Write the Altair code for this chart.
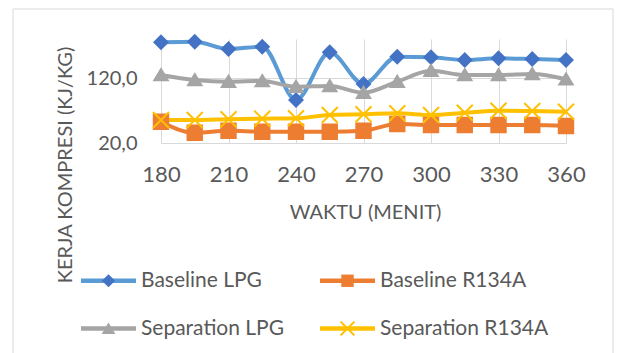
import altair as alt
import pandas as pd

# Time axis (minutes) and the four measured series of compression work (kJ/kg)
minutes = [180, 195, 210, 225, 240, 255, 270, 285, 300, 315, 330, 345, 360]
series_names = ["Baseline LPG", "Baseline R134A", "Separation LPG", "Separation R134A"]
baseline_lpg = [174.9, 175.8, 164.6, 168.2, 86.2, 159.5, 110.8, 152.8, 151.8, 147.7, 150.3, 149.2, 147.7]
baseline_r134a = [52.8, 35.8, 38.9, 37.4, 37.4, 37.4, 38.9, 49.2, 47.7, 47.7, 47.7, 47.7, 46.2]
separation_lpg = [124.6, 116.9, 114.3, 115.4, 106.6, 107.7, 97.4, 114.3, 131.2, 124.6, 124.6, 126.2, 118.0]
separation_r134a = [55.4, 55.4, 56.5, 57.4, 58.0, 63.1, 64.2, 65.7, 63.1, 66.6, 69.7, 69.2, 68.2]

x_ticks = [180, 210, 240, 270, 300, 330, 360]
y_ticks = [20, 120]

line_colors = ["#5b9bd5", "#ed7d31", "#a5a5a5", "#ffc000"]
marker_colors = ["#4472c4", "#ed7d31", "#a5a5a5", "#ffc000"]
marker_fills = ["#4472c4", "#ed7d31", "#a5a5a5", "transparent"]

# Marker shapes on the plot (unit box -1..1)
plot_markers = [
    "M0,-0.82L0.82,0L0,0.82L-0.82,0Z",
    "M-0.9,-0.9H0.9V0.9H-0.9Z",
    "M0,-0.74L0.84,0.66L-0.84,0.66Z",
    "M-1,-1L1,1M-1,1L1,-1",
]

# Legend symbols: a long bar for the line, plus a small marker on top of it
legend_bar = "M-1,-0.08H1V0.08H-1Z"
a, d = 0.25, 0.027
legend_markers = [
    "M0,-0.24L0.24,0L0,0.24L-0.24,0Z",
    "M-0.225,-0.225H0.225V0.225H-0.225Z",
    "M0,-0.22L0.25,0.2L-0.25,0.2Z",
    (f"M{-a-d},{-a+d}L{-a+d},{-a-d}L{a+d},{a-d}L{a-d},{a+d}Z"
     f"M{-a+d},{a+d}L{-a-d},{a-d}L{a-d},{-a-d}L{a+d},{-a+d}Z"),
]

rows = []
for name, vals in zip(series_names, [baseline_lpg, baseline_r134a, separation_lpg, separation_r134a]):
    for m, v in zip(minutes, vals):
        rows.append({"minute": m, "value": v, "series": name})
df = pd.DataFrame(rows)

FONT = "Lato"
TEXT = "#595959"
GRID = "#d9d9d9"

x_enc = alt.X(
    "minute:Q",
    scale=alt.Scale(domain=[180, 360], nice=False, zero=False),
    axis=alt.Axis(
        values=x_ticks, title="WAKTU (MENIT)", grid=True, gridColor=GRID,
        domainColor=GRID, ticks=False, tickSize=0, labelFlush=False, labelOverlap=False,
        labelFont=FONT, labelFontSize=22, labelColor=TEXT, labelPadding=31,
        labelBaseline="middle", titleFont=FONT, titleFontSize=20,
        titleFontWeight="normal", titleColor=TEXT, titleX=204, titleY=69,
        titleBaseline="middle",
    ),
)
y_enc = alt.Y(
    "value:Q",
    scale=alt.Scale(domain=[20, 180], nice=False, zero=False),
    axis=alt.Axis(
        values=y_ticks, labelExpr="replace(format(datum.value, '.1f'), '.', ',')",
        title="KERJA KOMPRESI (KJ/KG)", grid=True, gridColor=GRID, domain=False,
        ticks=False, tickSize=0, labelFont=FONT, labelFontSize=20, labelColor=TEXT,
        labelPadding=24, titleFont=FONT, titleFontSize=20, titleFontWeight="normal",
        titleColor=TEXT, titleX=-96, titleY=125.5, titleBaseline="middle",
    ),
)

base = alt.Chart(df)

lines = base.mark_line(interpolate="monotone", strokeWidth=4).encode(
    x=x_enc,
    y=y_enc,
    color=alt.Color("series:N", scale=alt.Scale(domain=series_names, range=line_colors), legend=None),
)

points = base.mark_point(size=256, strokeWidth=2, opacity=1).encode(
    x="minute:Q",
    y="value:Q",
    fill=alt.Fill("series:N", scale=alt.Scale(domain=series_names, range=marker_fills), legend=None),
    stroke=alt.Stroke("series:N", scale=alt.Scale(domain=series_names, range=marker_colors), legend=None),
    shape=alt.Shape("series:N", scale=alt.Scale(domain=series_names, range=plot_markers), legend=None),
)


def legend_props(show_labels):
    props = dict(
        title=None, orient="none", legendX=-80, legendY=214, columns=2,
        direction="horizontal",
        symbolSize=3025, symbolStrokeWidth=0, labelFont=FONT, labelFontSize=21,
        labelColor=TEXT, labelOffset=5, labelLimit=400, rowPadding=10,
        columnPadding=35, padding=0,
    )
    if not show_labels:
        props["labelOpacity"] = 0
    return alt.Legend(**props)


# Legend layers: no marks of their own, only the key built from the scales
legend_lines = base.transform_filter("false").mark_point(filled=True, opacity=1).encode(
    x="minute:Q",
    y="value:Q",
    fill=alt.Fill("series:N", scale=alt.Scale(domain=series_names, range=line_colors), legend=legend_props(True)),
    shape=alt.Shape("series:N", scale=alt.Scale(domain=series_names, range=[legend_bar] * 4), legend=legend_props(True)),
)
legend_marks = base.transform_filter("false").mark_point(filled=True, opacity=1).encode(
    x="minute:Q",
    y="value:Q",
    fill=alt.Fill("series:N", scale=alt.Scale(domain=series_names, range=marker_colors), legend=legend_props(False)),
    shape=alt.Shape("series:N", scale=alt.Scale(domain=series_names, range=legend_markers), legend=legend_props(False)),
)

# Outer chart-area border
frame = alt.Chart(pd.DataFrame({"k": [0]})).mark_rect(
    fill="transparent", stroke=GRID, strokeWidth=1
).encode(
    x=alt.value(-148), x2=alt.value(452), y=alt.value(-30), y2=alt.value(330)
)

chart = (
    alt.layer(frame, lines, points, legend_lines, legend_marks)
    .resolve_scale(fill="independent", shape="independent")
    .properties(
        width=405, height=104,
        autosize=alt.AutoSizeParams(type="none"),
        padding={"left": 161, "top": 39, "right": 53, "bottom": 210},
        background="white",
    )
    .configure_view(strokeWidth=0)
)

chart.save("out.html", embed_options={"renderer": "svg", "actions": False})
